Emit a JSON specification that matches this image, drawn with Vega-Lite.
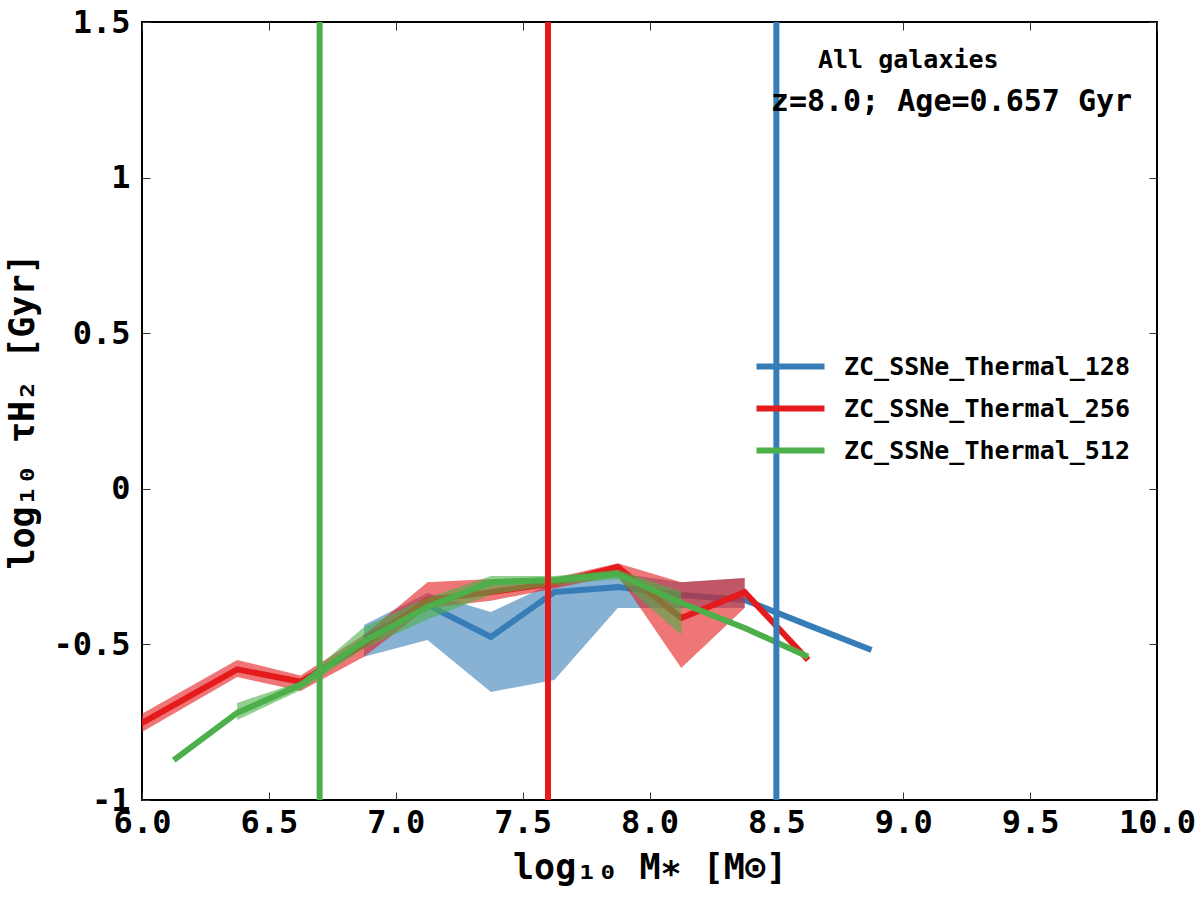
{
  "$schema": "https://vega.github.io/schema/vega-lite/v6.json",
  "width": 1015,
  "height": 778,
  "autosize": "none",
  "padding": {"left": 142, "top": 22, "right": 43, "bottom": 100},
  "background": "white",
  "datasets": {
    "stats": [
      {"series": "ZC_SSNe_Thermal_128", "mass": 6.875, "tau": -0.479, "lo": -0.540, "hi": -0.438},
      {"series": "ZC_SSNe_Thermal_128", "mass": 7.125, "tau": -0.373, "lo": -0.486, "hi": -0.335},
      {"series": "ZC_SSNe_Thermal_128", "mass": 7.375, "tau": -0.476, "lo": -0.653, "hi": -0.396},
      {"series": "ZC_SSNe_Thermal_128", "mass": 7.625, "tau": -0.332, "lo": -0.614, "hi": -0.300},
      {"series": "ZC_SSNe_Thermal_128", "mass": 7.875, "tau": -0.316, "lo": -0.383, "hi": -0.271},
      {"series": "ZC_SSNe_Thermal_128", "mass": 8.125, "tau": -0.341, "lo": -0.383, "hi": -0.300},
      {"series": "ZC_SSNe_Thermal_128", "mass": 8.375, "tau": -0.357, "lo": -0.383, "hi": -0.287},
      {"series": "ZC_SSNe_Thermal_128", "mass": 8.625, "tau": -0.438},
      {"series": "ZC_SSNe_Thermal_128", "mass": 8.875, "tau": -0.518},
      {"series": "ZC_SSNe_Thermal_256", "mass": 5.875, "tau": -0.810, "lo": -0.840, "hi": -0.780},
      {"series": "ZC_SSNe_Thermal_256", "mass": 6.375, "tau": -0.580, "lo": -0.605, "hi": -0.550},
      {"series": "ZC_SSNe_Thermal_256", "mass": 6.625, "tau": -0.620, "lo": -0.650, "hi": -0.600},
      {"series": "ZC_SSNe_Thermal_256", "mass": 6.875, "tau": -0.500, "lo": -0.540, "hi": -0.470},
      {"series": "ZC_SSNe_Thermal_256", "mass": 7.125, "tau": -0.357, "lo": -0.383, "hi": -0.300},
      {"series": "ZC_SSNe_Thermal_256", "mass": 7.375, "tau": -0.332, "lo": -0.360, "hi": -0.290},
      {"series": "ZC_SSNe_Thermal_256", "mass": 7.625, "tau": -0.303, "lo": -0.320, "hi": -0.287},
      {"series": "ZC_SSNe_Thermal_256", "mass": 7.875, "tau": -0.251, "lo": -0.277, "hi": -0.239},
      {"series": "ZC_SSNe_Thermal_256", "mass": 8.125, "tau": -0.415, "lo": -0.576, "hi": -0.300},
      {"series": "ZC_SSNe_Thermal_256", "mass": 8.375, "tau": -0.332, "lo": -0.383, "hi": -0.287},
      {"series": "ZC_SSNe_Thermal_256", "mass": 8.625, "tau": -0.550},
      {"series": "ZC_SSNe_Thermal_512", "mass": 6.125, "tau": -0.872},
      {"series": "ZC_SSNe_Thermal_512", "mass": 6.375, "tau": -0.720, "lo": -0.743, "hi": -0.688},
      {"series": "ZC_SSNe_Thermal_512", "mass": 6.625, "tau": -0.630, "lo": -0.647, "hi": -0.620},
      {"series": "ZC_SSNe_Thermal_512", "mass": 6.875, "tau": -0.490, "lo": -0.512, "hi": -0.444},
      {"series": "ZC_SSNe_Thermal_512", "mass": 7.125, "tau": -0.380, "lo": -0.420, "hi": -0.350},
      {"series": "ZC_SSNe_Thermal_512", "mass": 7.375, "tau": -0.300, "lo": -0.340, "hi": -0.280},
      {"series": "ZC_SSNe_Thermal_512", "mass": 7.625, "tau": -0.293, "lo": -0.310, "hi": -0.280},
      {"series": "ZC_SSNe_Thermal_512", "mass": 7.875, "tau": -0.274, "lo": -0.290, "hi": -0.260},
      {"series": "ZC_SSNe_Thermal_512", "mass": 8.125, "tau": -0.367, "lo": -0.470, "hi": -0.330},
      {"series": "ZC_SSNe_Thermal_512", "mass": 8.375, "tau": -0.447},
      {"series": "ZC_SSNe_Thermal_512", "mass": 8.625, "tau": -0.540}
    ],
    "limits": [
      {"series": "ZC_SSNe_Thermal_128", "mass": 8.5},
      {"series": "ZC_SSNe_Thermal_256", "mass": 7.6},
      {"series": "ZC_SSNe_Thermal_512", "mass": 6.7}
    ]
  },
  "resolve": {"axis": {"x": "independent", "y": "independent"}},
  "layer": [
    {
      "data": {"name": "stats"},
      "transform": [{"filter": "datum.series == 'ZC_SSNe_Thermal_128'"}],
      "mark": {"type": "area", "fillOpacity": 0.6, "clip": true},
      "encoding": {
        "x": {"field": "mass", "type": "quantitative", "scale": {"domain": [6, 10], "nice": false, "zero": false}, "axis": null},
        "y": {"field": "lo", "type": "quantitative", "scale": {"domain": [-1, 1.5], "nice": false, "zero": false}, "axis": null},
        "y2": {"field": "hi"},
        "color": {"field": "series", "type": "nominal"}
      }
    },
    {
      "data": {"name": "stats"},
      "transform": [{"filter": "datum.series == 'ZC_SSNe_Thermal_128'"}],
      "mark": {"type": "line", "strokeWidth": 6, "clip": true},
      "encoding": {
        "x": {
          "field": "mass", "type": "quantitative",
          "axis": {
            "orient": "bottom",
            "values": [6, 6.5, 7, 7.5, 8, 8.5, 9, 9.5, 10],
            "format": ".1f",
            "title": "log₁₀ M∗ [M⊙]",
            "labelPadding": 15,
            "titlePadding": 12
          }
        },
        "y": {
          "field": "tau", "type": "quantitative",
          "axis": {
            "orient": "left",
            "values": [-1, -0.5, 0, 0.5, 1, 1.5],
            "labelExpr": "datum.value + ''",
            "title": "log₁₀  τH₂  [Gyr]",
            "labelPadding": 20,
            "titlePadding": 12
          }
        },
        "color": {
          "field": "series", "type": "nominal",
          "scale": {"domain": ["ZC_SSNe_Thermal_128", "ZC_SSNe_Thermal_256", "ZC_SSNe_Thermal_512"], "range": ["#377eb8", "#e41a1c", "#4daf4a"]},
          "legend": {
            "orient": "none",
            "legendX": 636,
            "legendY": 332,
            "title": null,
            "symbolType": "M-4,0H4",
            "symbolSize": 289,
            "symbolStrokeWidth": 6,
            "symbolFillColor": "transparent",
            "symbolOpacity": 1,
            "labelFont": "DejaVu Sans Mono",
            "labelFontWeight": "bold",
            "labelFontSize": 25,
            "labelColor": "black",
            "labelOffset": 41,
            "rowPadding": 16,
            "padding": 0,
            "labelLimit": 500,
            "encode": {"symbols": {"update": {"opacity": {"value": 1}, "strokeOpacity": {"value": 1}}}}
          }
        }
      }
    },
    {
      "data": {"name": "stats"},
      "transform": [{"filter": "datum.series == 'ZC_SSNe_Thermal_256'"}],
      "mark": {"type": "area", "fillOpacity": 0.6, "clip": true},
      "encoding": {
        "x": {"field": "mass", "type": "quantitative", "axis": null},
        "y": {"field": "lo", "type": "quantitative", "axis": null},
        "y2": {"field": "hi"},
        "color": {"field": "series", "type": "nominal"}
      }
    },
    {
      "data": {"name": "stats"},
      "transform": [{"filter": "datum.series == 'ZC_SSNe_Thermal_256'"}],
      "mark": {"type": "line", "strokeWidth": 6, "clip": true},
      "encoding": {
        "x": {"field": "mass", "type": "quantitative", "axis": null},
        "y": {"field": "tau", "type": "quantitative", "axis": null},
        "color": {"field": "series", "type": "nominal"}
      }
    },
    {
      "data": {"name": "stats"},
      "transform": [{"filter": "datum.series == 'ZC_SSNe_Thermal_512'"}],
      "mark": {"type": "area", "fillOpacity": 0.6, "clip": true},
      "encoding": {
        "x": {"field": "mass", "type": "quantitative", "axis": null},
        "y": {"field": "lo", "type": "quantitative", "axis": null},
        "y2": {"field": "hi"},
        "color": {"field": "series", "type": "nominal"}
      }
    },
    {
      "data": {"name": "stats"},
      "transform": [{"filter": "datum.series == 'ZC_SSNe_Thermal_512'"}],
      "mark": {"type": "line", "strokeWidth": 6, "clip": true},
      "encoding": {
        "x": {
          "field": "mass", "type": "quantitative",
          "axis": {"orient": "top", "values": [6, 6.5, 7, 7.5, 8, 8.5, 9, 9.5, 10], "labels": false, "title": null}
        },
        "y": {
          "field": "tau", "type": "quantitative",
          "axis": {"orient": "right", "values": [-1, -0.5, 0, 0.5, 1, 1.5], "labels": false, "title": null}
        },
        "color": {"field": "series", "type": "nominal"}
      }
    },
    {
      "data": {"name": "limits"},
      "mark": {"type": "rule", "strokeWidth": 6},
      "encoding": {
        "x": {"field": "mass", "type": "quantitative", "axis": null},
        "color": {"field": "series", "type": "nominal"}
      }
    },
    {
      "data": {"values": [{}]},
      "mark": {"type": "text", "text": "All galaxies", "font": "DejaVu Sans Mono", "fontWeight": "bold", "fontSize": 25, "align": "center", "baseline": "middle", "color": "black"},
      "encoding": {
        "x": {"datum": 9.02, "type": "quantitative", "axis": null},
        "y": {"datum": 1.378, "type": "quantitative", "axis": null}
      }
    },
    {
      "data": {"values": [{}]},
      "mark": {"type": "text", "text": "z=8.0; Age=0.657 Gyr", "font": "DejaVu Sans Mono", "fontWeight": "bold", "fontSize": 30, "align": "center", "baseline": "middle", "color": "black"},
      "encoding": {
        "x": {"datum": 9.19, "type": "quantitative", "axis": null},
        "y": {"datum": 1.243, "type": "quantitative", "axis": null}
      }
    }
  ],
  "config": {
    "view": {"stroke": "black", "strokeWidth": 2},
    "axis": {
      "grid": false,
      "domain": false,
      "ticks": true,
      "tickSize": -8,
      "tickWidth": 1,
      "tickColor": "#333333",
      "labelFont": "DejaVu Sans Mono",
      "labelFontWeight": "bold",
      "labelFontSize": 32,
      "labelColor": "black",
      "labelFlush": false,
      "labelOverlap": false,
      "titleFont": "DejaVu Sans Mono",
      "titleFontWeight": "bold",
      "titleFontSize": 35,
      "titleColor": "black"
    },
    "legend": {"symbolType": "stroke"}
  }
}
